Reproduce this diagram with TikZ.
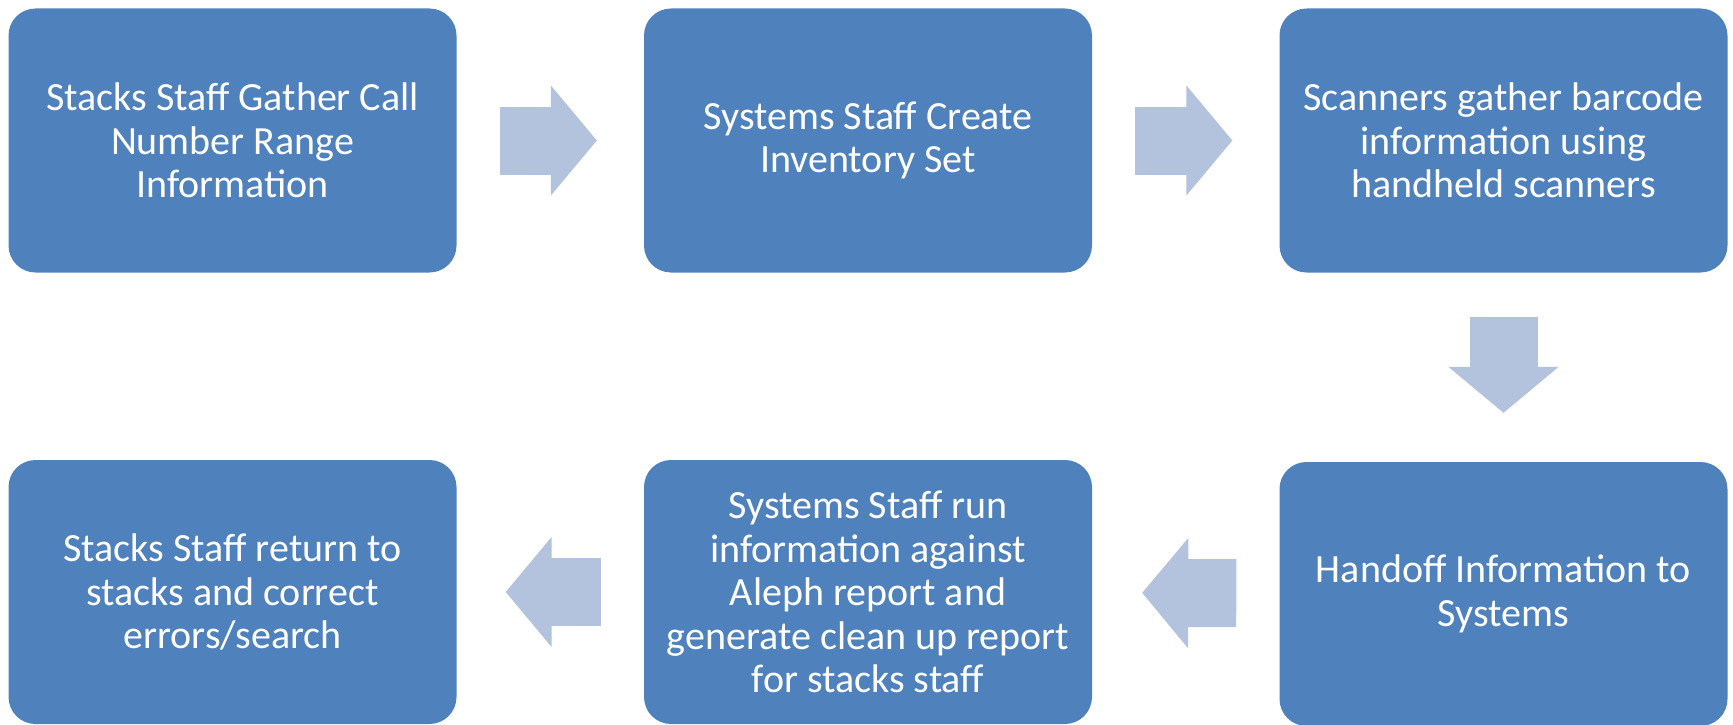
\documentclass[tikz,border=0pt]{standalone}
\usepackage{fontspec}
\setmainfont{Carlito}
\usetikzlibrary{arrows.meta}
\definecolor{boxblue}{RGB}{79,129,189}
\definecolor{arrowblue}{RGB}{179,194,221}

\begin{document}
\begin{tikzpicture}[x=1pt,y=-1pt,
		stepbox/.style={fill=boxblue,rounded corners=27pt,minimum width=448pt,minimum height=264pt,
			align=center,text=white,font=\fontsize{40}{43.5}\selectfont},
		blockarrow/.style={draw=arrowblue,line width=68pt,
			-{Triangle[width=110pt,length=46pt,line width=2pt,fill=arrowblue]}}]
		\useasboundingbox (0,0) rectangle (1733,725);
		\node[stepbox] (gather) at (232.5,140.5) {Stacks Staff Gather Call\\Number Range\\Information};
		\node[stepbox] (create) at (868,140.5) {Systems Staff Create\\Inventory Set};
		\node[stepbox] (scan) at (1503.5,140.5) {Scanners gather barcode\\information using\\handheld scanners};
		\node[stepbox] (handoff) at (1503.5,594) {Handoff Information to\\Systems};
		\node[stepbox] (report) at (868,592) {Systems Staff run\\information against\\Aleph report and\\generate clean up report\\for stacks staff};
		\node[stepbox] (correct) at (232.5,592) {Stacks Staff return to\\stacks and correct\\errors/search};
		
		\draw[blockarrow,shorten <=43pt,shorten >=47pt] (gather) -- (create);
		\draw[blockarrow,shorten <=43pt,shorten >=47pt] (create) -- (scan);
		\draw[blockarrow,shorten <=44pt,shorten >=49pt] (scan) -- (handoff);
		\draw[blockarrow,shorten <=43pt,shorten >=50pt] (handoff) -- (report);
		\draw[blockarrow,shorten <=43pt,shorten >=49pt] (report) -- (correct);
	\end{tikzpicture}
\end{document}
